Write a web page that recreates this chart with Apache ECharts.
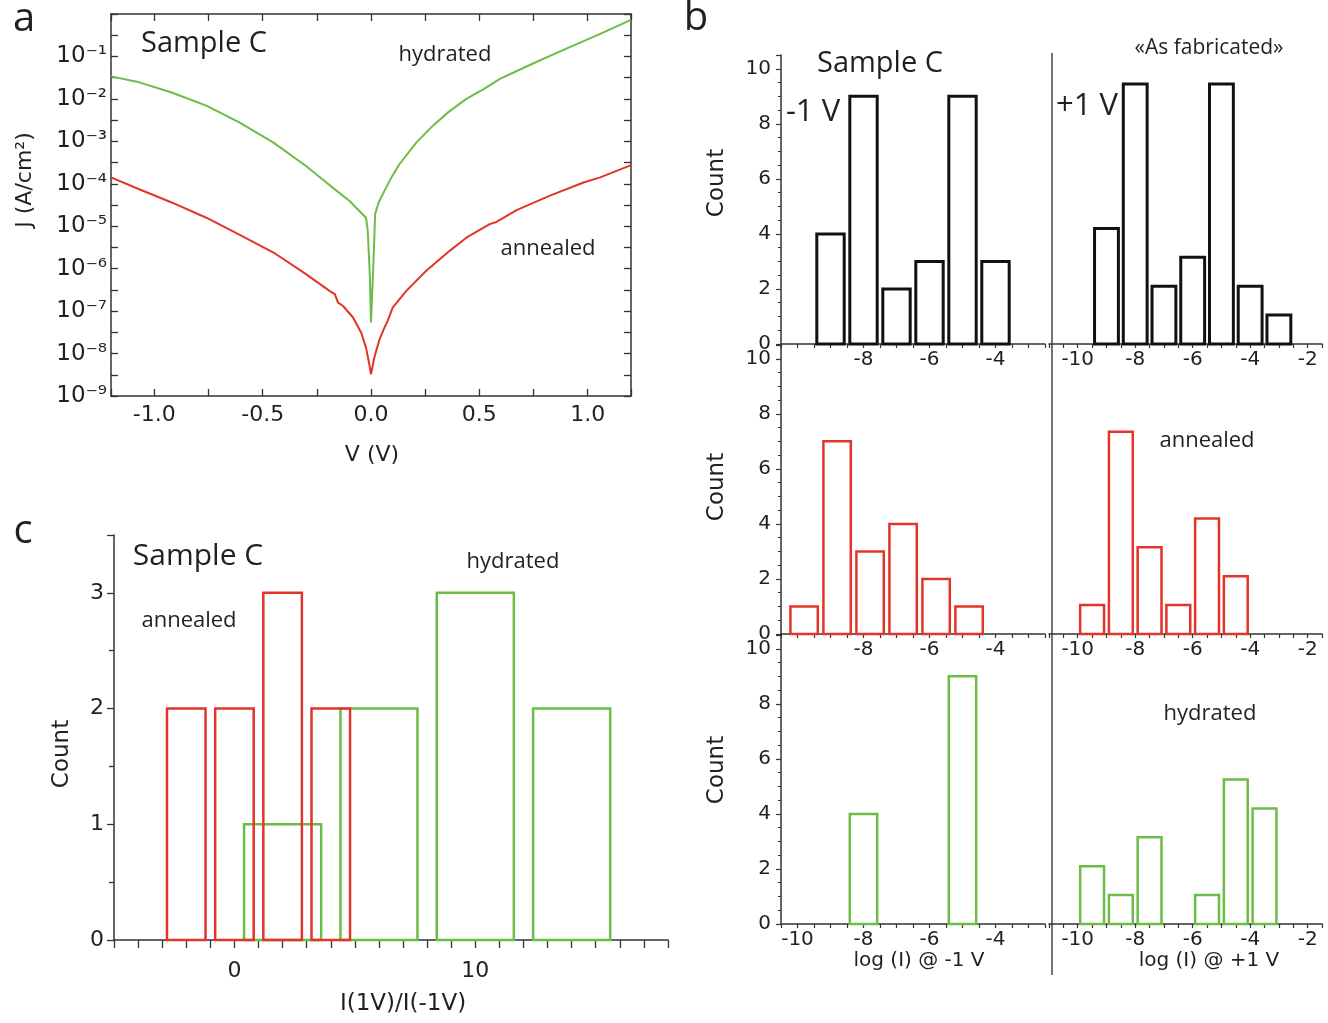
<!DOCTYPE html>
<html><head><meta charset="utf-8">
<script src="https://cdn.jsdelivr.net/npm/echarts@6/dist/echarts.min.js"></script>
<style>html,body{margin:0;padding:0;background:#fff}#c{width:1328px;height:1023px}</style>
</head><body><div id="c"></div>
<script>
// ---------- Panel a: J–V curves (log10 of J in A/cm²) ----------
const hydratedV = [-1.2,-1.07,-0.92,-0.76,-0.61,-0.45,-0.30,-0.24,-0.177,-0.10,-0.054,-0.023,-0.015,-0.005,0,0.011,0.019,0.035,0.054,0.09,0.131,0.209,0.286,0.36,0.44,0.52,0.595,0.75,0.904,1.058,1.2];
const hydratedLogJ = [-1.47,-1.61,-1.85,-2.16,-2.55,-3.03,-3.58,-3.83,-4.09,-4.40,-4.64,-4.80,-5.11,-6.2,-7.27,-5.9,-4.72,-4.44,-4.25,-3.89,-3.54,-3.03,-2.63,-2.30,-2.0,-1.77,-1.53,-1.16,-0.81,-0.47,-0.14];
const annealedV = [-1.2,-1.07,-0.92,-0.76,-0.61,-0.45,-0.30,-0.19,-0.167,-0.152,-0.129,-0.083,-0.045,-0.023,-0.008,0,0.015,0.039,0.062,0.077,0.1,0.162,0.255,0.363,0.44,0.548,0.579,0.672,0.826,0.981,1.058,1.2];
const annealedLogJ = [-3.85,-4.13,-4.44,-4.80,-5.19,-5.62,-6.13,-6.53,-6.60,-6.80,-6.88,-7.15,-7.51,-7.86,-8.25,-8.49,-8.10,-7.67,-7.39,-7.23,-6.92,-6.53,-6.05,-5.58,-5.27,-4.95,-4.90,-4.62,-4.28,-3.97,-3.85,-3.56];

// ---------- Panel b: histograms of log(I) ----------
const asFabNegBins = [-9,-8,-7,-6,-5,-4];           const asFabNegCounts = [4,9,2,3,9,3];
const asFabPosBins = [-9,-8,-7,-6,-5,-4,-3];        const asFabPosCounts = [4,9,2,3,9,2,1];
const annNegBins = [-9.8,-8.8,-7.8,-6.8,-5.8,-4.8]; const annNegCounts = [1,7,3,4,2,1];
const annPosBins = [-9.5,-8.5,-7.5,-6.5,-5.5,-4.5]; const annPosCounts = [1,7,3,1,4,2];
const hydNegBins = [-8,-5];                         const hydNegCounts = [4,9];
const hydPosBins = [-9.5,-8.5,-7.5,-5.5,-4.5,-3.5]; const hydPosCounts = [2,1,3,1,5,4];
const logBinWidth = 1;

// ---------- Panel c: rectification ratio histograms ----------
const ratioAnnBins = [-2,0,2,4];  const ratioAnnCounts = [2,2,3,2]; const ratioAnnBinWidth = 2;
const ratioHydBins = [2,6,10,14]; const ratioHydCounts = [1,2,3,2]; const ratioHydBinWidth = 4;

// ---------- styling ----------
const AX = 'DejaVu Sans', HUM = 'Open Sans';
const TXT = '#231f20', AXC = '#333';
const GREEN = '#6cbd45', RED = '#e3342a';
const BAR_FILL = 0.83, BAR_FILL_C = 0.8;
const SUP = { '-': '⁻', '0': '⁰', '1': '¹', '2': '²', '3': '³', '4': '⁴', '5': '⁵', '6': '⁶', '7': '⁷', '8': '⁸', '9': '⁹' };
const toSup = s => String(s).split('').map(ch => SUP[ch] || ch).join('');

function hist(bins, counts, binWidth, fill, color, xi, yi, lw) {
  return {
    type: 'custom', xAxisIndex: xi, yAxisIndex: yi, silent: true, animation: false,
    data: bins.map((b, i) => [b, counts[i]]),
    renderItem: (params, api) => {
      const c = api.value(0), h = api.value(1), half = binWidth * fill / 2;
      const p0 = api.coord([c - half, h]);
      const p1 = api.coord([c + half, 0]);
      return { type: 'rect', shape: { x: p0[0], y: p0[1], width: p1[0] - p0[0], height: p1[1] - p0[1] },
               style: { fill: 'none', stroke: color, lineWidth: lw } };
    }
  };
}

const axLine = { show: true, onZero: false, lineStyle: { color: AXC, width: 1.5 } };

// grids: 0 a, 1 c, 2-4 b left, 5-7 b right
const grids = [
  { left: 111, top: 14, width: 520, height: 382 },
  { left: 114, top: 535, width: 554, height: 405 },
  { left: 781, top: 55, width: 264, height: 289 },
  { left: 781, top: 345, width: 264, height: 289 },
  { left: 781, top: 635, width: 264, height: 289 },
  { left: 1049, top: 55, width: 273, height: 289 },
  { left: 1049, top: 345, width: 273, height: 289 },
  { left: 1049, top: 635, width: 273, height: 289 }
];

function bLeftX(gi, show10) {
  return { type: 'value', gridIndex: gi, min: -10.5, max: -2.5, interval: 0.5,
    axisLine: axLine, splitLine: { show: false },
    axisTick: { show: true, length: 4, lineStyle: { color: AXC, width: 1.2 } },
    axisLabel: { margin: 6, fontFamily: AX, fontSize: 20, color: TXT,
      formatter: v => (Number.isInteger(v) && v % 2 === 0 && (show10 || v !== -10)) ? String(v) : '' } };
}
function bRightX(gi) {
  return { type: 'value', gridIndex: gi, min: -11, max: -1.5, interval: 0.5,
    axisLine: axLine, splitLine: { show: false },
    axisTick: { show: true, length: 4, lineStyle: { color: AXC, width: 1.2 } },
    axisLabel: { margin: 6, fontFamily: AX, fontSize: 20, color: TXT,
      formatter: v => (Number.isInteger(v) && v % 2 === 0 && v >= -10) ? String(v) : '' } };
}
function bLeftY(gi) {
  return { type: 'value', gridIndex: gi, min: 0, max: 10.5, interval: 2,
    axisLine: axLine, splitLine: { show: false },
    axisTick: { show: true, length: 5, lineStyle: { color: AXC, width: 1.2 } },
    minorTick: { show: true, splitNumber: 4, length: 3, lineStyle: { color: AXC, width: 1 } },
    axisLabel: { margin: 10, fontFamily: AX, fontSize: 20, color: TXT,
      formatter: v => Number.isInteger(v) ? String(v) : '' } };
}
function bRightY(gi) {
  return { type: 'value', gridIndex: gi, min: 0, max: 10, show: false, splitLine: { show: false } };
}

const xAxes = [
  { type: 'value', gridIndex: 0, min: -1.2, max: 1.2, splitNumber: 5,
    axisLine: axLine, splitLine: { show: false },
    axisTick: { show: true, inside: true, length: 7, lineStyle: { color: AXC, width: 1.3 } },
    minorTick: { show: true, splitNumber: 2, length: 7, lineStyle: { color: AXC, width: 1.3 } },
    axisLabel: { margin: 8, fontFamily: AX, fontSize: 22, color: TXT, showMinLabel: false, showMaxLabel: false,
      formatter: v => v.toFixed(1) } },
  { type: 'value', gridIndex: 0, position: 'top', min: -1.2, max: 1.2, splitNumber: 5,
    axisLine: axLine, splitLine: { show: false },
    axisTick: { show: true, inside: true, length: 7, lineStyle: { color: AXC, width: 1.3 } },
    minorTick: { show: true, splitNumber: 2, length: 7, lineStyle: { color: AXC, width: 1.3 } },
    axisLabel: { show: false } },
  { type: 'value', gridIndex: 1, min: -5, max: 18, interval: 5,
    axisLine: axLine, splitLine: { show: false },
    axisTick: { show: true, length: 8, lineStyle: { color: AXC, width: 1.3 } },
    minorTick: { show: true, splitNumber: 5, length: 8, lineStyle: { color: AXC, width: 1.3 } },
    axisLabel: { margin: 20, fontFamily: AX, fontSize: 22, color: TXT,
      formatter: v => (v === 0 || v === 10) ? String(v) : '' } },
  bLeftX(2, false), bLeftX(3, false), bLeftX(4, true),
  bRightX(5), bRightX(6), bRightX(7)
];

const yAxes = [
  { type: 'value', gridIndex: 0, min: -9, max: 0, interval: 1,
    axisLine: axLine, splitLine: { show: false },
    axisTick: { show: true, inside: true, length: 7, lineStyle: { color: AXC, width: 1.3 } },
    minorTick: { show: true, splitNumber: 2, length: 7, lineStyle: { color: AXC, width: 1.3 } },
    axisLabel: { margin: 4, color: TXT, fontFamily: AX, fontSize: 23, showMinLabel: true, padding: [0, 0, 12, 0],
      formatter: v => v === 0 ? '' : '10' + toSup(v) } },
  { type: 'value', gridIndex: 0, position: 'right', min: -9, max: 0, interval: 1,
    axisLine: axLine, splitLine: { show: false },
    axisTick: { show: true, inside: true, length: 7, lineStyle: { color: AXC, width: 1.3 } },
    minorTick: { show: true, splitNumber: 2, length: 7, lineStyle: { color: AXC, width: 1.3 } },
    axisLabel: { show: false } },
  { type: 'value', gridIndex: 1, min: 0, max: 3.5, interval: 1,
    axisLine: axLine, splitLine: { show: false },
    axisTick: { show: true, length: 7, lineStyle: { color: AXC, width: 1.3 } },
    minorTick: { show: true, splitNumber: 2, length: 5, lineStyle: { color: AXC, width: 1.3 } },
    axisLabel: { margin: 10, fontFamily: AX, fontSize: 22, color: TXT,
      formatter: v => Number.isInteger(v) ? String(v) : '' } },
  bLeftY(2), bLeftY(3), bLeftY(4), bRightY(5), bRightY(6), bRightY(7)
];

const series = [
  { type: 'line', xAxisIndex: 0, yAxisIndex: 0, showSymbol: false, silent: true, animation: false,
    data: hydratedV.map((v, i) => [v, hydratedLogJ[i]]), lineStyle: { color: GREEN, width: 2 } },
  { type: 'line', xAxisIndex: 0, yAxisIndex: 0, showSymbol: false, silent: true, animation: false,
    data: annealedV.map((v, i) => [v, annealedLogJ[i]]), lineStyle: { color: RED, width: 2 } },
  hist(ratioHydBins, ratioHydCounts, ratioHydBinWidth, BAR_FILL_C, GREEN, 2, 2, 2.5),
  hist(ratioAnnBins, ratioAnnCounts, ratioAnnBinWidth, BAR_FILL_C, RED, 2, 2, 2.5),
  hist(asFabNegBins, asFabNegCounts, logBinWidth, BAR_FILL, '#111', 3, 3, 3),
  hist(annNegBins, annNegCounts, logBinWidth, BAR_FILL, RED, 4, 4, 2.5),
  hist(hydNegBins, hydNegCounts, logBinWidth, BAR_FILL, GREEN, 5, 5, 2.5),
  hist(asFabPosBins, asFabPosCounts, logBinWidth, BAR_FILL, '#111', 6, 6, 3),
  hist(annPosBins, annPosCounts, logBinWidth, BAR_FILL, RED, 7, 7, 2.5),
  hist(hydPosBins, hydPosCounts, logBinWidth, BAR_FILL, GREEN, 8, 8, 2.5)
];

function txt(text, x, y, font, size, opts) {
  opts = opts || {};
  return { type: 'text', x: x, y: y, rotation: opts.rot || 0, silent: true, z: 10,
    style: { text: text, x: 0, y: 0, fill: opts.color || TXT, font: size + 'px "' + font + '"',
      textAlign: 'center', textVerticalAlign: 'middle' } };
}
const R90 = Math.PI / 2;
const graphics = [
  txt('a', 24, 20, HUM, 40), txt('b', 696, 19, HUM, 40), txt('c', 23, 532, HUM, 40),
  txt('Sample C', 204, 44, HUM, 29), txt('hydrated', 445, 55, HUM, 22), txt('annealed', 548, 249, HUM, 22),
  txt('J (A/cm²)', 25, 180, AX, 22, { rot: R90 }), txt('V (V)', 372, 455, AX, 22),
  txt('Sample C', 880, 64, HUM, 29), txt('«As fabricated»', 1209, 48, HUM, 21),
  txt('-1 V', 813, 112, HUM, 31), txt('+1 V', 1087, 106, HUM, 31),
  txt('Count', 717, 183, AX, 23, { rot: R90 }), txt('Count', 717, 487, AX, 23, { rot: R90 }), txt('Count', 717, 770, AX, 23, { rot: R90 }),
  txt('annealed', 1207, 441, HUM, 22), txt('hydrated', 1210, 714, HUM, 22),
  txt('log (I) @ -1 V', 919, 961, AX, 20), txt('log (I) @ +1 V', 1209, 961, AX, 20),
  txt('Sample C', 198, 556, HUM, 30), txt('annealed', 189, 621, HUM, 22), txt('hydrated', 513, 562, HUM, 22),
  txt('Count', 62, 754, AX, 23, { rot: R90 }), txt('I(1V)/I(-1V)', 403, 1004, AX, 23),
  { type: 'line', silent: true, shape: { x1: 1052, y1: 53, x2: 1052, y2: 975 }, style: { stroke: '#444', lineWidth: 1.5 } }
];

const chart = echarts.init(document.getElementById('c'), null, { renderer: 'canvas', width: 1328, height: 1023 });
chart.setOption({
  animation: false, backgroundColor: '#fff',
  grid: grids, xAxis: xAxes, yAxis: yAxes, series: series, graphic: graphics
});
</script></body></html>
